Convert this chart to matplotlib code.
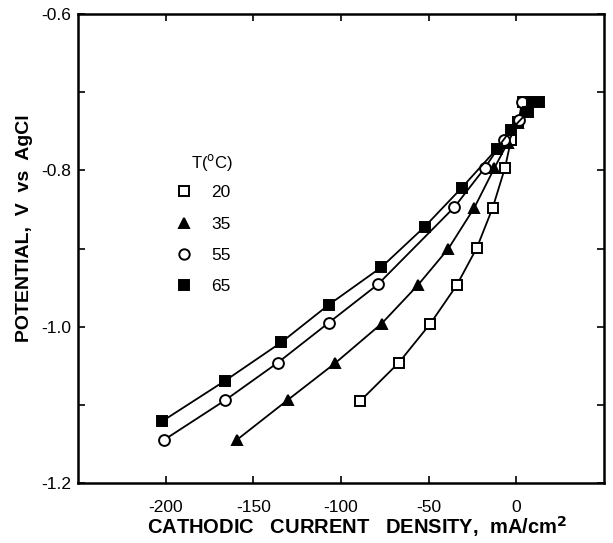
import matplotlib
matplotlib.use("Agg")
import matplotlib.pyplot as plt

plt.rcParams['font.family'] = ['Liberation Sans', 'DejaVu Sans']

# Polarization data: current density (mA/cm^2) vs potential (V vs AgCl)
temps = ['20', '35', '55', '65']

i_20 = [-89, -67, -49, -34, -22.5, -13.5, -6.5, -3, 1, 4]
e_20 = [-1.095, -1.046, -0.996, -0.947, -0.899, -0.848, -0.797, -0.761, -0.738, -0.713]

i_35 = [-159.5, -130.5, -103.5, -76.8, -56.2, -38.7, -24, -12.5, -5, 1, 5]
e_35 = [-1.145, -1.094, -1.047, -0.996, -0.947, -0.900, -0.848, -0.797, -0.765, -0.740, -0.713]

i_55 = [-201, -166, -136, -107, -79, -35.3, -18, -7.2, 1.7, 3]
e_55 = [-1.145, -1.094, -1.046, -0.995, -0.946, -0.847, -0.797, -0.761, -0.735, -0.713]

i_65 = [-202, -166, -134, -107, -77, -52.2, -31, -11.3, -3, 6.8, 9, 13]
e_65 = [-1.121, -1.069, -1.020, -0.972, -0.924, -0.872, -0.822, -0.773, -0.748, -0.725, -0.713, -0.713]

series = [
    (i_20, e_20, 's', 'white'),
    (i_35, e_35, '^', 'black'),
    (i_55, e_55, 'o', 'white'),
    (i_65, e_65, 's', 'black'),
]

x_ticks = [-200, -150, -100, -50, 0]
y_ticks = [-1.2, -1.1, -1.0, -0.9, -0.8, -0.7, -0.6]
y_labels = ['-1.2', '', '-1.0', '', '-0.8', '', '-0.6']

W, H = 613, 543
fig = plt.figure(figsize=(W / 100, H / 100), dpi=100)
ax = fig.add_axes([78 / W, (H - 483) / H, 526 / W, 469 / H])

handles = []
for (x, y, m, fc), t in zip(series, temps):
    h, = ax.plot(x, y, color='black', lw=1.3, marker=m, markersize=7.8,
                 markerfacecolor=fc, markeredgecolor='black',
                 markeredgewidth=1.4, label=t)
    handles.append(h)

ax.set_xlim(-250, 50)
ax.set_ylim(-1.2, -0.6)
ax.set_xticks(x_ticks)
ax.set_xticklabels([str(v) for v in x_ticks])
ax.set_yticks(y_ticks)
ax.set_yticklabels(y_labels)
ax.tick_params(direction='in', length=5, width=1.2, labelsize=12.5,
               top=True, right=True)
ax.tick_params(axis='x', pad=12)
ax.tick_params(axis='y', pad=5)

for s in ax.spines.values():
    s.set_linewidth(1.8)

ax.set_xlabel('CATHODIC   CURRENT   DENSITY,  mA/cm$^{\\mathbf{2}}$',
              fontsize=14.5, fontweight='bold')
ax.xaxis.set_label_coords(0.53, -0.066)
ax.set_ylabel('POTENTIAL,  V  vs  AgCl', fontsize=14, fontweight='bold')
ax.yaxis.set_label_coords(-0.085, 0.544)

marker_handles = [plt.Line2D([], [], ls='none', marker=h.get_marker(),
                             markersize=7.5, markerfacecolor=h.get_markerfacecolor(),
                             markeredgecolor='black', markeredgewidth=1.4)
                  for h in handles]
ax.legend(handles=marker_handles, labels=temps, frameon=False,
          loc='upper left', bbox_to_anchor=(0.155, 0.668),
          fontsize=12.5, handlelength=1.0, handletextpad=1.1,
          labelspacing=0.92)
ax.text(0.255, 0.66, 'T($^{\\rm o}$C)', transform=ax.transAxes,
        ha='center', va='bottom', fontsize=12)

fig.savefig('out.png', dpi=100)
